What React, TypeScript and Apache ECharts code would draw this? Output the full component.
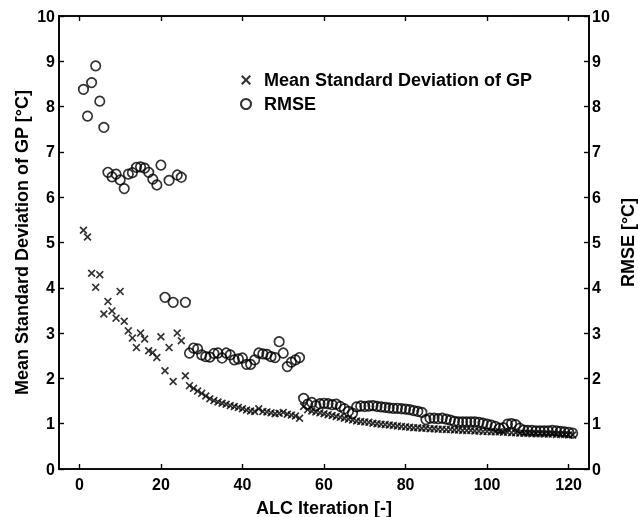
import React, { useEffect, useRef } from "react";
import * as echarts from "echarts";

const iterations: number[] = Array.from({ length: 121 }, (_, i) => i + 1);

const gpStd: number[] = [
  5.27, 5.12, 4.32, 4.01, 4.29, 3.42, 3.70, 3.49, 3.33, 3.92,
  3.26, 3.05, 2.89, 2.68, 3.00, 2.87, 2.61, 2.57, 2.46, 2.92,
  2.17, 2.68, 1.93, 3.00, 2.83, 2.06, 1.84, 1.78, 1.72, 1.67,
  1.61, 1.55, 1.51, 1.48, 1.45, 1.43, 1.40, 1.38, 1.36, 1.33,
  1.30, 1.28, 1.27, 1.33, 1.27, 1.26, 1.24, 1.22, 1.23, 1.25,
  1.21, 1.19, 1.17, 1.12, 1.38, 1.31, 1.28, 1.26, 1.24, 1.22,
  1.20, 1.18, 1.16, 1.14, 1.12, 1.10, 1.08, 1.06, 1.05, 1.04,
  1.03, 1.01, 1.00, 0.99, 0.98, 0.97, 0.96, 0.95, 0.94, 0.93,
  0.92, 0.91, 0.91, 0.90, 0.90, 0.89, 0.89, 0.88, 0.88, 0.87,
  0.87, 0.86, 0.86, 0.85, 0.85, 0.85, 0.84, 0.84, 0.83, 0.83,
  0.82, 0.82, 0.82, 0.81, 0.81, 0.80, 0.80, 0.79, 0.79, 0.79,
  0.78, 0.78, 0.78, 0.77, 0.77, 0.77, 0.76, 0.76, 0.76, 0.75,
  0.75,
];

const rmse: number[] = [
  8.38, 7.79, 8.53, 8.90, 8.12, 7.54, 6.55, 6.45, 6.51, 6.38,
  6.19, 6.51, 6.54, 6.66, 6.67, 6.64, 6.55, 6.40, 6.27, 6.71,
  3.79, 6.37, 3.68, 6.49, 6.44, 3.68, 2.56, 2.67, 2.65, 2.52,
  2.48, 2.47, 2.55, 2.56, 2.45, 2.56, 2.52, 2.41, 2.43, 2.45,
  2.31, 2.31, 2.41, 2.56, 2.54, 2.53, 2.48, 2.46, 2.81, 2.56,
  2.26, 2.36, 2.41, 2.46, 1.56, 1.43, 1.47, 1.40, 1.44, 1.45,
  1.44, 1.42, 1.43, 1.38, 1.33, 1.27, 1.23, 1.37, 1.39, 1.38,
  1.39, 1.40, 1.38, 1.37, 1.36, 1.35, 1.34, 1.34, 1.33, 1.32,
  1.31, 1.29, 1.27, 1.25, 1.09, 1.12, 1.12, 1.11, 1.12, 1.10,
  1.08, 1.05, 1.04, 1.04, 1.04, 1.04, 1.04, 1.03, 1.01, 0.99,
  0.97, 0.94, 0.90, 0.91, 0.99, 1.00, 0.98, 0.90, 0.86, 0.85,
  0.85, 0.84, 0.84, 0.84, 0.84, 0.85, 0.84, 0.83, 0.82, 0.81,
  0.79,
];

const xTicks: number[] = [0, 20, 40, 60, 80, 100, 120];

const FONT = "'Liberation Sans', Arial, Helvetica, sans-serif";
const CROSS =
  "path://M0,1.5 L1.5,0 L5,3.5 L8.5,0 L10,1.5 L6.5,5 L10,8.5 L8.5,10 L5,6.5 L1.5,10 L0,8.5 L3.5,5 Z";

const mkLine = () => ({ show: true, onZero: false, lineStyle: { color: "black", width: 1.6 } });
const mkTick = (extra: any = {}) => ({
  show: true,
  inside: true,
  length: 5,
  lineStyle: { color: "black", width: 1.4 },
  ...extra,
});

export default function App() {
  const ref = useRef<HTMLDivElement>(null);
  useEffect(() => {
    if (!ref.current) return;
    const chart = echarts.init(ref.current, undefined, { renderer: "svg" });
    const labelStyle = { color: "#000", fontFamily: FONT, fontWeight: "bold" as const, fontSize: 16 };
    const nameStyle = { color: "#000", fontFamily: FONT, fontWeight: "bold" as const, fontSize: 18 };
    chart.setOption({
      animation: false,
      grid: {
        left: 59,
        right: 49,
        top: 16,
        bottom: 48,
        containLabel: false,
        outerBoundsMode: "none",
        show: true,
        borderColor: "black",
        borderWidth: 1.6,
      },
      legend: {
        orient: "vertical",
        left: 235,
        top: 66,
        itemWidth: 26,
        itemHeight: 10,
        itemGap: 6,
        textStyle: { ...nameStyle, lineHeight: 18 },
        data: [
          { name: "Mean Standard Deviation of GP", icon: CROSS },
          { name: "RMSE", icon: "circle" },
        ],
      },
      xAxis: [
        {
          type: "value",
          min: -5,
          max: 125,
          position: "bottom",
          name: "ALC Iteration [-]",
          nameLocation: "middle",
          nameGap: 30,
          nameMoveOverlap: false,
          nameTextStyle: { ...nameStyle },
          axisLine: mkLine(),
          axisTick: mkTick({ customValues: xTicks }),
          axisLabel: { ...labelStyle, margin: 7, customValues: xTicks },
          splitLine: { show: false },
        },
        {
          type: "value",
          min: -5,
          max: 125,
          position: "top",
          axisLine: mkLine(),
          axisTick: mkTick({ customValues: xTicks }),
          axisLabel: { show: false, customValues: xTicks },
          splitLine: { show: false },
        },
      ],
      yAxis: [
        {
          type: "value",
          min: 0,
          max: 10,
          interval: 1,
          position: "left",
          name: "Mean Standard Deviation of GP [°C]",
          nameLocation: "middle",
          nameRotate: 90,
          nameGap: 28,
          nameMoveOverlap: false,
          nameTextStyle: { ...nameStyle },
          axisLine: mkLine(),
          axisTick: mkTick(),
          axisLabel: { ...labelStyle, margin: 4 },
          splitLine: { show: false },
        },
        {
          type: "value",
          min: 0,
          max: 10,
          interval: 1,
          position: "right",
          name: "RMSE [°C]",
          nameLocation: "middle",
          nameRotate: 90,
          nameGap: 30,
          nameMoveOverlap: false,
          nameTextStyle: { ...nameStyle },
          axisLine: mkLine(),
          axisTick: mkTick(),
          axisLabel: { ...labelStyle, margin: 3 },
          splitLine: { show: false },
        },
      ],
      series: [
        {
          name: "Mean Standard Deviation of GP",
          type: "scatter",
          xAxisIndex: 0,
          yAxisIndex: 0,
          symbol: CROSS,
          symbolSize: 8,
          itemStyle: { color: "#000" },
          data: iterations.map((x, i) => [x, gpStd[i]]),
        },
        {
          name: "RMSE",
          type: "scatter",
          xAxisIndex: 0,
          yAxisIndex: 1,
          symbol: "circle",
          symbolSize: 9.5,
          itemStyle: { color: "rgba(0,0,0,0)", borderColor: "#000", borderWidth: 1.7 },
          data: iterations.map((x, i) => [x, rmse[i]]),
        },
      ],
    });
    return () => chart.dispose();
  }, []);
  return <div ref={ref} style={{ position: "fixed", left: 0, top: 0, width: 638, height: 517 }} />;
}
